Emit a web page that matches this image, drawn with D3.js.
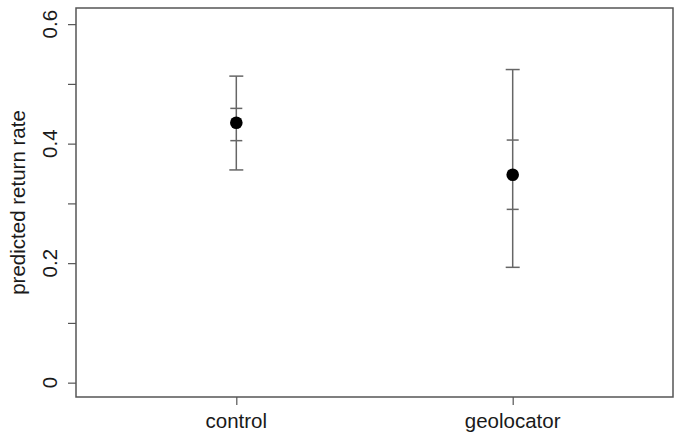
<!DOCTYPE html>
<html>
<head>
  <script src="https://d3js.org/d3.v7.min.js"></script>
  <style>
    body { margin: 0; background: #fff; }
    text { font-family: "Liberation Sans", Arial, sans-serif; fill: #1a1a1a; }
  </style>
</head>
<body>
  <div id="chart"></div>
  <script>
    // values
    var groups = ["control", "geolocator"];
    var estimate = [0.435, 0.348];
    var outerLow = [0.356, 0.193];
    var outerHigh = [0.513, 0.524];
    var innerLow = [0.405, 0.290];
    var innerHigh = [0.459, 0.406];
    var yTicks = [0, 0.1, 0.2, 0.3, 0.4, 0.5, 0.6];
    var yLabels = [0, 0.2, 0.4, 0.6];

    var margin = { top: 8, right: 10, bottom: 45, left: 76 },
        width = 683 - margin.left - margin.right,
        height = 442 - margin.top - margin.bottom;

    var svg = d3.select("#chart")
      .append("svg")
      .attr("width", 683)
      .attr("height", 442)
      .append("g")
      .attr("transform", "translate(" + margin.left + "," + margin.top + ")");

    var x = d3.scaleLinear().domain([0.42, 2.58]).range([0, width]);
    var y = d3.scaleLinear().domain([-0.024, 0.627]).range([height, 0]);

    var axisColor = "#555";

    // box
    svg.append("rect")
      .attr("x", 0).attr("y", 0)
      .attr("width", width).attr("height", height)
      .attr("fill", "none")
      .attr("stroke", axisColor)
      .attr("stroke-width", 1.5);

    // y axis
    var yAxis = svg.append("g")
      .call(d3.axisLeft(y).tickValues(yTicks).tickSize(8).tickFormat(""));
    yAxis.select(".domain").remove();
    yAxis.selectAll("line").attr("stroke", axisColor).attr("stroke-width", 1.2);

    svg.append("g").selectAll("text")
      .data(yLabels)
      .join("text")
      .attr("transform", d => "translate(-19," + y(d) + ") rotate(-90)")
      .attr("text-anchor", "middle")
      .style("font-size", "20.5px")
      .text(d => d);

    // x axis
    var xAxis = svg.append("g")
      .attr("transform", "translate(0," + height + ")")
      .call(d3.axisBottom(x).tickValues([1, 2]).tickSize(8).tickFormat(""));
    xAxis.select(".domain").remove();
    xAxis.selectAll("line").attr("stroke", axisColor).attr("stroke-width", 1.2);

    svg.append("g").selectAll("text")
      .data(groups)
      .join("text")
      .attr("x", (d, i) => x(i + 1))
      .attr("y", height + 31)
      .attr("text-anchor", "middle")
      .style("font-size", "20.5px")
      .text(d => d);

    // y label
    svg.append("text")
      .attr("transform", "translate(" + (-51) + "," + (height / 2) + ") rotate(-90)")
      .attr("text-anchor", "middle")
      .style("font-size", "20.5px")
      .text("predicted return rate");

    var barColor = "#666";
    var idx = d3.range(groups.length);

    // whiskers
    svg.append("g").selectAll("line")
      .data(idx)
      .join("line")
      .attr("x1", i => x(i + 1)).attr("x2", i => x(i + 1))
      .attr("y1", i => y(outerLow[i])).attr("y2", i => y(outerHigh[i]))
      .attr("stroke", barColor).attr("stroke-width", 1.5);

    var caps = [];
    idx.forEach(function (i) {
      caps.push({ i: i, v: outerLow[i], w: 7 });
      caps.push({ i: i, v: outerHigh[i], w: 7 });
      caps.push({ i: i, v: innerLow[i], w: 6 });
      caps.push({ i: i, v: innerHigh[i], w: 6 });
    });
    svg.append("g").selectAll("line")
      .data(caps)
      .join("line")
      .attr("x1", d => x(d.i + 1) - d.w).attr("x2", d => x(d.i + 1) + d.w)
      .attr("y1", d => y(d.v)).attr("y2", d => y(d.v))
      .attr("stroke", barColor).attr("stroke-width", 1.5);

    // points
    svg.append("g").selectAll("circle")
      .data(idx)
      .join("circle")
      .attr("cx", i => x(i + 1))
      .attr("cy", i => y(estimate[i]))
      .attr("r", 6.3)
      .attr("fill", "#000");
  </script>
</body>
</html>
